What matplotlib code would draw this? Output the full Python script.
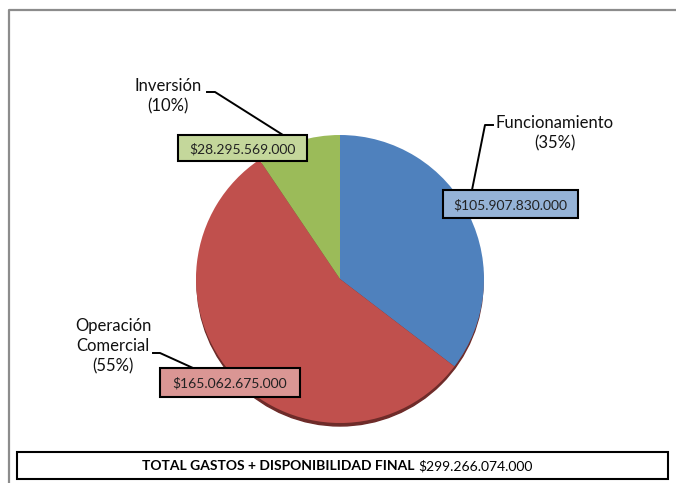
import matplotlib.pyplot as plt
from matplotlib.patches import Rectangle, Circle

plt.rcParams['font.family'] = ['Lato', 'DejaVu Sans']

# data
categories = ['Funcionamiento', 'Operación\nComercial', 'Inversión']
values = [105907830000, 165062675000, 28295569000]
pct_labels = ['(35%)', '(55%)', '(10%)']
total_label = 'TOTAL GASTOS + DISPONIBILIDAD FINAL'
total_value = 299266074000

colors = ['#4F81BD', '#C0504D', '#9BBB59']
box_colors = ['#95B3D7', '#DA9694', '#C4D79B']

W, H = 676, 483
fig = plt.figure(figsize=(W / 100, H / 100), dpi=100)
ax = fig.add_axes([0, 0, 1, 1])

def Y(y):  # image row -> axes y
    return H - y

def money(v):
    return '$' + f'{v:,}'.replace(',', '.')

# pie with a small drop shadow underneath
cx, cy, r = 340, Y(279), 144
ax.add_patch(Circle((cx, cy - 4), r - 1, color='#6e2b29', zorder=1))
ax.pie(values, colors=colors, startangle=90, counterclock=False,
       center=(cx, cy), radius=r, frame=True,
       wedgeprops=dict(linewidth=0, zorder=2))
ax.set_xlim(0, W)
ax.set_ylim(0, H)
ax.set_aspect('equal')
ax.axis('off')

# chart area border (left + top)
ax.plot([8.5, 8.5, W], [Y(H), Y(10), Y(10)], color='#8c8c8c', lw=1.6, solid_capstyle='butt')

# value boxes: (x0, y0, x1, y1) in image px
boxes = [(443, 190, 578, 218), (160, 368, 300, 397), (178, 135, 307, 161)]
for v, (x0, y0, x1, y1), bc in zip(values, boxes, box_colors):
    ax.add_patch(Rectangle((x0, Y(y1)), x1 - x0, y1 - y0, facecolor=bc,
                           edgecolor='black', lw=1.5, zorder=5))
    ax.text((x0 + x1) / 2, Y((y0 + y1) / 2 + 1), money(v), ha='center', va='center',
            fontsize=10, color='#222222', zorder=6)

# category labels
label_pos = [(555, 124), (113, 327), (168, 87)]
for cat, pct, (x, y) in zip(categories, pct_labels, label_pos):
    ax.text(x, Y(y - 9), cat + '\n' + pct, ha='center', va='top',
            fontsize=12, linespacing=1.3, color='#111111', zorder=6)

# leader lines
leaders = [
    [(493, 125), (485, 125), (472, 190)],
    [(153, 353), (160, 353), (193, 368)],
    [(207, 92), (215, 92), (283, 135)],
]
for pts in leaders:
    ax.plot([p[0] for p in pts], [Y(p[1]) for p in pts], color='black', lw=1.4, zorder=4)

# total box
ax.add_patch(Rectangle((17, Y(479)), 651, 27, facecolor='white',
                       edgecolor='black', lw=1.5, zorder=5))
ax.text(418, Y(466), total_label + ' ', ha='right', va='center',
        fontsize=10, fontweight='bold', zorder=6)
ax.text(418, Y(466), money(total_value), ha='left', va='center', fontsize=10, zorder=6)

fig.savefig('out.png', dpi=100)
